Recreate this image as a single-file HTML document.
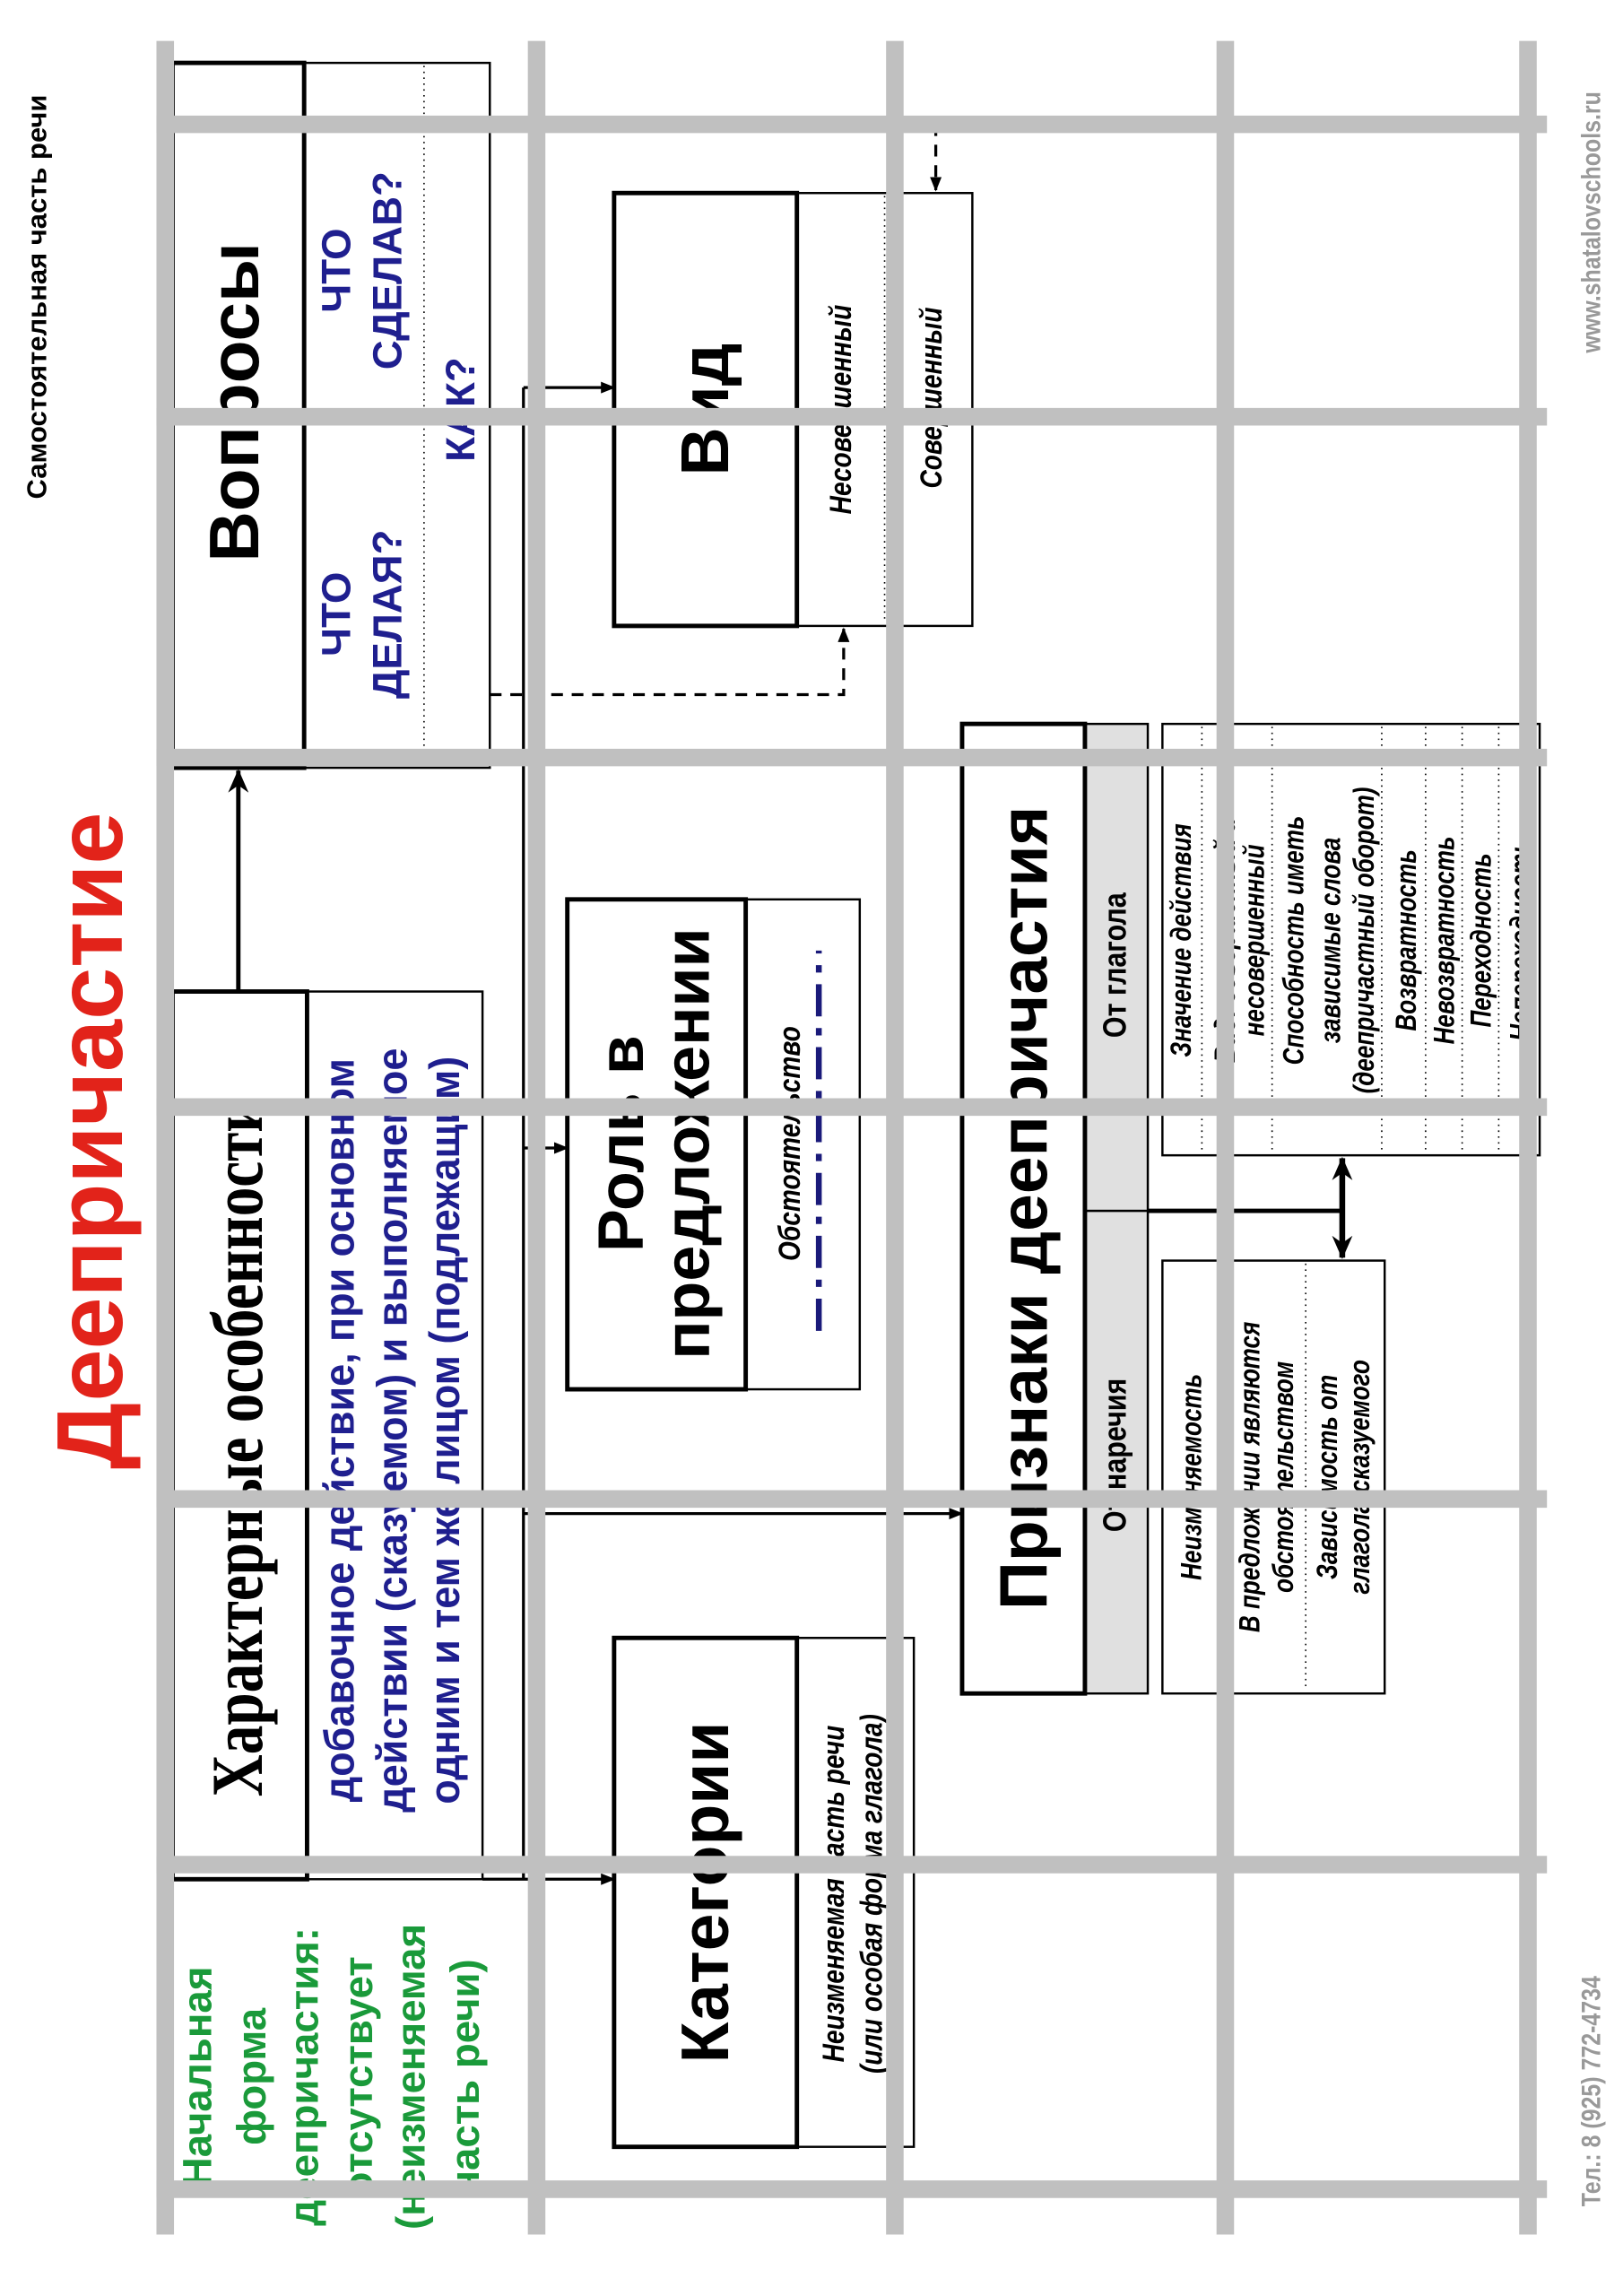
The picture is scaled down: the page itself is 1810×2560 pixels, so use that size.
<!DOCTYPE html>
<html><head><meta charset="utf-8"><style>
html,body{margin:0;padding:0;background:#fff;}
svg{display:block}
text{font-family:"Liberation Sans",sans-serif;}
</style></head><body>
<svg width="1810" height="2560" viewBox="0 0 1110 1570" preserveAspectRatio="none" xmlns="http://www.w3.org/2000/svg">
<defs>
<marker id="a" markerWidth="10" markerHeight="8" refX="9" refY="4" orient="auto" markerUnits="userSpaceOnUse"><path d="M0,0 L10,4 L0,8 Z" fill="#000"/></marker>
<marker id="b" markerWidth="16" markerHeight="14" refX="15" refY="7" orient="auto" markerUnits="userSpaceOnUse"><path d="M0,0 L16,7 L0,14 L5,7 Z" fill="#000"/></marker>
</defs>
<g font-weight="bold">
<text transform="translate(25,203) rotate(-90)" text-anchor="middle" dominant-baseline="central" font-size="19">Самостоятельная часть речи</text>
<text transform="translate(62,780) rotate(-90)" text-anchor="middle" dominant-baseline="central" font-size="64" fill="#e2231a">Деепричастие</text>
<text transform="translate(1088,152) rotate(-90) scale(0.85,1)" text-anchor="middle" dominant-baseline="central" font-size="18" fill="#999">www.shatalovschools.ru</text>
<text transform="translate(1088,1430) rotate(-90) scale(0.85,1)" text-anchor="middle" dominant-baseline="central" font-size="18" fill="#999">Тел.: 8 (925) 772-4734</text>

<g stroke="#000" stroke-width="2" fill="none">
<line x1="358" y1="265" x2="358" y2="1285"/>
<line x1="358" y1="265" x2="420" y2="265" marker-end="url(#a)"/>
<line x1="358" y1="785" x2="388" y2="785" marker-end="url(#a)"/>
<line x1="358" y1="1035" x2="658" y2="1035" marker-end="url(#a)"/>
<line x1="330" y1="1285" x2="420" y2="1285" marker-end="url(#a)"/>
<line x1="163" y1="678" x2="163" y2="527" stroke-width="3" marker-end="url(#b)"/>
<path d="M335,475 H577 V430" stroke-dasharray="8,6" marker-end="url(#a)"/>
<path d="M640,85 V130" stroke-dasharray="8,6" marker-end="url(#a)"/>
<line x1="785" y1="828" x2="918" y2="828" stroke-width="3"/>
<line x1="918" y1="800" x2="918" y2="792" stroke-width="4" marker-end="url(#b)"/>
<line x1="918" y1="800" x2="918" y2="860" stroke-width="4" marker-end="url(#b)"/>
</g>

<g fill="#fff" stroke="#000">
<rect x="208" y="43" width="127" height="482" stroke-width="1.5"/>
<rect x="118" y="43" width="90" height="482" stroke-width="3"/>
<rect x="210" y="678" width="120" height="607" stroke-width="1.5"/>
<rect x="118" y="678" width="92" height="607" stroke-width="3"/>
<rect x="545" y="132" width="120" height="296" stroke-width="1.5"/>
<rect x="420" y="132" width="125" height="296" stroke-width="3"/>
<rect x="510" y="615" width="78" height="335" stroke-width="1.5"/>
<rect x="388" y="615" width="122" height="335" stroke-width="3"/>
<rect x="545" y="1120" width="80" height="348" stroke-width="1.5"/>
<rect x="420" y="1120" width="125" height="348" stroke-width="3"/>
<rect x="742" y="495" width="43" height="333" fill="#e0e0e0" stroke-width="1.5"/>
<rect x="742" y="828" width="43" height="330" fill="#e0e0e0" stroke-width="1.5"/>
<rect x="658" y="495" width="84" height="663" stroke-width="3"/>
<rect x="795" y="495" width="258" height="295" stroke-width="1.5"/>
<rect x="795" y="862" width="152" height="296" stroke-width="1.5"/>
</g>
<g stroke="#000" stroke-width="1" stroke-dasharray="1,3">
<line x1="290" y1="45" x2="290" y2="523"/>
<line x1="605" y1="134" x2="605" y2="426"/>
<line x1="822" y1="497" x2="822" y2="788"/>
<line x1="870" y1="497" x2="870" y2="788"/>
<line x1="945" y1="497" x2="945" y2="788"/>
<line x1="975" y1="497" x2="975" y2="788"/>
<line x1="1000" y1="497" x2="1000" y2="788"/>
<line x1="1025" y1="497" x2="1025" y2="788"/>
<line x1="835" y1="864" x2="835" y2="1156"/>
<line x1="893" y1="864" x2="893" y2="1156"/>
</g>
<path d="M560,910 V650" stroke="#1a1a7a" stroke-width="4" stroke-dasharray="22,8,5,8" fill="none"/>

<g text-anchor="middle" dominant-baseline="central">
<text transform="translate(160,275) rotate(-90)" font-size="48">Вопросы</text>
<g fill="#1f1f8f" font-size="28">
<text transform="translate(230,420) rotate(-90)">ЧТО</text>
<text transform="translate(265,420) rotate(-90)">ДЕЛАЯ?</text>
<text transform="translate(230,185) rotate(-90)">ЧТО</text>
<text transform="translate(265,185) rotate(-90)">СДЕЛАВ?</text>
<text transform="translate(315,280) rotate(-90)">КАК?</text>
</g>
<text transform="translate(162,990) rotate(-90) scale(0.8,1)" font-size="50" style="font-family:'Liberation Serif',serif">Характерные особенности</text>
<g fill="#1f1f8f" font-size="29">
<text transform="translate(232,978) rotate(-90) scale(0.95,1)">добавочное действие, при основном</text>
<text transform="translate(268,978) rotate(-90) scale(0.95,1)">действии (сказуемом) и выполняемое</text>
<text transform="translate(304,978) rotate(-90) scale(0.95,1)">одним и тем же лицом (подлежащим)</text>
</g>
<g fill="#1a9a3a" font-size="28">
<text transform="translate(135,1420) rotate(-90)">Начальная</text>
<text transform="translate(172,1420) rotate(-90)">форма</text>
<text transform="translate(208,1420) rotate(-90)">деепричастия:</text>
<text transform="translate(245,1420) rotate(-90)">отсутствует</text>
<text transform="translate(281,1420) rotate(-90)">(неизменяемая</text>
<text transform="translate(318,1420) rotate(-90)">часть речи)</text>
</g>
<text transform="translate(482,280) rotate(-90)" font-size="46">Вид</text>
<g font-style="italic" font-size="21">
<text transform="translate(575,280) rotate(-90) scale(0.82,1)">Несовершенный</text>
<text transform="translate(637,272) rotate(-90) scale(0.82,1)">Совершенный</text>
<text transform="translate(540,782) rotate(-90) scale(0.82,1)">Обстоятельство</text>
<text transform="translate(570,1295) rotate(-90) scale(0.82,1)">Неизменяемая часть речи</text>
<text transform="translate(596,1295) rotate(-90) scale(0.82,1)">(или особая форма глагола)</text>
</g>
<text transform="translate(425,782) rotate(-90)" font-size="44">Роль в</text>
<text transform="translate(470,782) rotate(-90)" font-size="44">предложении</text>
<text transform="translate(482,1294) rotate(-90)" font-size="46">Категории</text>
<text transform="translate(700,826) rotate(-90)" font-size="46">Признаки деепричастия</text>
<text transform="translate(763,660) rotate(-90) scale(0.85,1)" font-size="22">От глагола</text>
<text transform="translate(763,995) rotate(-90) scale(0.85,1)" font-size="22">От наречия</text>
<g font-style="italic" font-size="20">
<text transform="translate(808,643) rotate(-90) scale(0.8,1)">Значение действия</text>
<text transform="translate(838,643) rotate(-90) scale(0.8,1)">Вид: совершенный и</text>
<text transform="translate(858,643) rotate(-90) scale(0.8,1)">несовершенный</text>
<text transform="translate(885,643) rotate(-90) scale(0.8,1)">Способность иметь</text>
<text transform="translate(910,643) rotate(-90) scale(0.8,1)">зависимые слова</text>
<text transform="translate(933,643) rotate(-90) scale(0.8,1)">(деепричастный оборот)</text>
<text transform="translate(962,643) rotate(-90) scale(0.8,1)">Возвратность</text>
<text transform="translate(988,643) rotate(-90) scale(0.8,1)">Невозвратность</text>
<text transform="translate(1013,643) rotate(-90) scale(0.8,1)">Переходность</text>
<text transform="translate(1040,643) rotate(-90) scale(0.8,1)">Непереходность</text>
<text transform="translate(815,1010) rotate(-90) scale(0.8,1)">Неизменяемость</text>
<text transform="translate(855,1010) rotate(-90) scale(0.8,1)">В предложении являются</text>
<text transform="translate(878,1010) rotate(-90) scale(0.8,1)">обстоятельством</text>
<text transform="translate(908,1010) rotate(-90) scale(0.8,1)">Зависимость от</text>
<text transform="translate(930,1010) rotate(-90) scale(0.8,1)">глагола-сказуемого</text>
</g>
</g>
</g>

<g stroke="#c0c0c0" stroke-width="12">
<line x1="113" y1="28" x2="113" y2="1528"/>
<line x1="367" y1="28" x2="367" y2="1528"/>
<line x1="612" y1="28" x2="612" y2="1528"/>
<line x1="838" y1="28" x2="838" y2="1528"/>
<line x1="1045" y1="28" x2="1045" y2="1528"/>
<line x1="107" y1="85" x2="1058" y2="85"/>
<line x1="107" y1="285" x2="1058" y2="285"/>
<line x1="107" y1="518" x2="1058" y2="518"/>
<line x1="107" y1="757" x2="1058" y2="757"/>
<line x1="107" y1="1025" x2="1058" y2="1025"/>
<line x1="107" y1="1275" x2="1058" y2="1275"/>
<line x1="107" y1="1497" x2="1058" y2="1497"/>
</g>
</svg>
</body></html>
